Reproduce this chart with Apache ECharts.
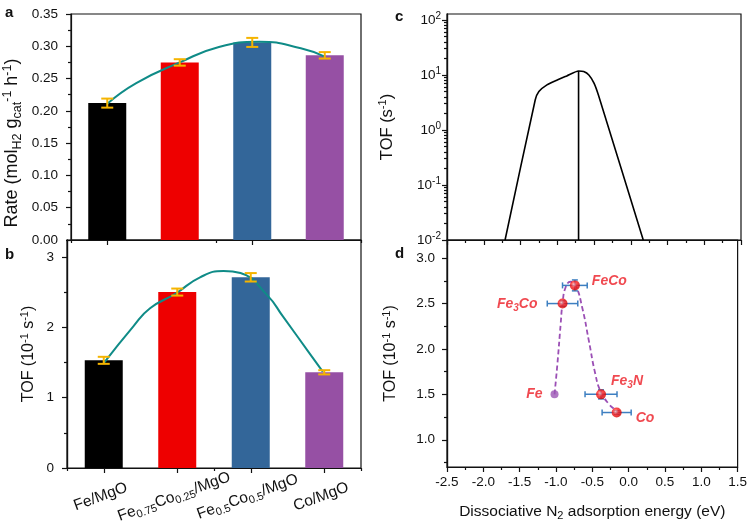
<!DOCTYPE html>
<html>
<head>
<meta charset="utf-8">
<script src="https://cdn.jsdelivr.net/npm/echarts@6/dist/echarts.min.js"></script>
<style>
  html, body { margin: 0; padding: 0; background: #fff; }
  #chart { width: 750px; height: 531px; }
</style>
</head>
<body>
<div id="chart"></div>
<script>
// panels a/b: catalysts
const catalysts = ['Fe/MgO', 'Fe0.75Co0.25/MgO', 'Fe0.5Co0.5/MgO', 'Co/MgO'];
const catLabels = ['Fe/MgO', 'Fe{s|0.75}Co{s|0.25}/MgO', 'Fe{s|0.5}Co{s|0.5}/MgO', 'Co/MgO'];
const barColors = ['#000000', '#ee0000', '#336699', '#9650a4'];

const rate    = [0.212, 0.275, 0.306, 0.286];
const rateErr = [0.007, 0.005, 0.007, 0.005];
// fitted trend, x in category units
const rateFitX = [0, 0.4, 1, 1.54, 2.1, 2.67, 3];
const rateFitY = [0.211, 0.243, 0.275, 0.299, 0.307, 0.297, 0.284];

const tof    = [1.53, 2.50, 2.71, 1.36];
const tofErr = [0.05, 0.05, 0.06, 0.03];
const tofFitX = [0, 0.4, 0.63, 0.98, 1.31, 1.63, 1.86, 2.22, 2.44, 2.8, 2.98];
const tofFitY = [1.49, 2.01, 2.27, 2.48, 2.71, 2.80, 2.77, 2.46, 2.15, 1.63, 1.37];

// panel c: volcano curve
const volcanoE   = [-1.71, -1.30, -1.25, -1.14, -1.00, -0.87, -0.71, -0.64, -0.57, -0.50, -0.44, 0.17];
const volcanoTof = [0.01, 3.5, 5.0, 6.6, 8.1, 9.6, 11.8, 11.5, 10.0, 7.1, 4.3, 0.01];
const peakE = -0.71;
const peakTof = 11.8;

// panel d: measured points
const materials = ['Fe', 'Fe{s|3}Co', 'FeCo', 'Fe{s|3}N', 'Co'];
const energyD   = [-1.02, -0.91, -0.74, -0.38, -0.165];
const tofD      = [1.5, 2.5, 2.7, 1.5, 1.3];
const energyErr = [0, 0.21, 0.17, 0.22, 0.20];
const tofDErr   = [0, 0.03, 0.06, 0.05, 0.02];
const trendE = [-1.02, -0.98, -0.935, -0.91, -0.867, -0.80, -0.73, -0.64, -0.55, -0.46, -0.39, -0.28, -0.18];
const trendT = [1.5, 1.84, 2.28, 2.5, 2.68, 2.74, 2.70, 2.46, 2.10, 1.73, 1.54, 1.40, 1.33];

const tofTicks = [0, 1, 2, 3];
const tofMinor = [0.5, 1.5, 2.5];
const logTicks = [0.01, 0.1, 1, 10, 100];
const dTicks = [1.0, 1.5, 2.0, 2.5, 3.0];
const dMinor = [0.75, 1.25, 1.75, 2.25, 2.75];

const font = '"Liberation Sans", Arial, sans-serif';
const ink = '#111';

const logMinor = [];
for (let d = 0.01; d < 100; d *= 10) {
  for (let k = 2; k <= 9; k++) logMinor.push(+(k * d).toPrecision(3));
}

function richFor(size) {
  return {
    s: { fontSize: size, lineHeight: size, verticalAlign: 'bottom', fontFamily: font, color: ink },
    p: { fontSize: size, lineHeight: size, verticalAlign: 'top', fontFamily: font, color: ink },
  };
}
const lineSt = { color: ink, width: 1.2 };
const axisLine = { show: true, onZero: false, lineStyle: lineSt };
const tick = (len, extra) => Object.assign({ show: true, length: len, lineStyle: lineSt }, extra);
const labelSt = { color: ink, fontFamily: font, fontSize: 13.5, margin: 13 };
const nameSt = (size, sub, lh, pad) => ({ color: ink, fontFamily: font, fontSize: size, lineHeight: lh, rich: richFor(sub), padding: pad || 0 });

function frame(left, top, height) {
  return { left, top, width: 294, height, show: true, borderColor: ink, borderWidth: 1.2, backgroundColor: 'transparent' };
}

// extra left axis that only carries minor ticks
function minorY(gridIndex, type, min, max, values) {
  return {
    gridIndex, type, min, max, position: 'left', offset: 0,
    axisLine: { show: true, onZero: false, lineStyle: lineSt },
    axisLabel: { show: false }, splitLine: { show: false },
    axisTick: tick(3, { customValues: values }),
  };
}

// vertical error bar with caps
function capBars(color, half) {
  return (params, api) => {
    const x = api.value(0), v = api.value(1), e = api.value(2);
    const top = api.coord([x, v + e]);
    const bot = api.coord([x, v - e]);
    const st = { stroke: color, lineWidth: 2 };
    return {
      type: 'group',
      children: [
        { type: 'line', shape: { x1: top[0], y1: top[1], x2: bot[0], y2: bot[1] }, style: st },
        { type: 'line', shape: { x1: top[0] - half, y1: top[1], x2: top[0] + half, y2: top[1] }, style: st },
        { type: 'line', shape: { x1: bot[0] - half, y1: bot[1], x2: bot[0] + half, y2: bot[1] }, style: st },
      ],
    };
  };
}

// x and y error bars for panel d
function xyErr(params, api) {
  const x = api.value(0), y = api.value(1), ex = api.value(2), ey = api.value(3);
  const st = { stroke: '#3d7fc1', lineWidth: 1.5 };
  const kids = [];
  const seg = (a, b) => kids.push({ type: 'line', shape: { x1: a[0], y1: a[1], x2: b[0], y2: b[1] }, style: st });
  if (ex) {
    const l = api.coord([x - ex, y]), r = api.coord([x + ex, y]);
    seg(l, r);
    seg([l[0], l[1] - 3], [l[0], l[1] + 3]);
    seg([r[0], r[1] - 3], [r[0], r[1] + 3]);
  }
  if (ey) {
    const t = api.coord([x, y + ey]), b = api.coord([x, y - ey]);
    seg(t, b);
    seg([t[0] - 3, t[1]], [t[0] + 3, t[1]]);
    seg([b[0] - 3, b[1]], [b[0] + 3, b[1]]);
  }
  return { type: 'group', children: kids };
}

const redBall = new echarts.graphic.RadialGradient(0.4, 0.4, 0.6, [
  { offset: 0, color: '#ffc4c4' },
  { offset: 0.45, color: '#f22' },
  { offset: 1, color: '#d40000' },
]);

const labelPos = [
  { position: 'left', distance: 8, offset: [0, 0] },
  { position: 'left', distance: 20, offset: [0, 1] },
  { position: 'right', distance: 12, offset: [0, -4] },
  { position: 'right', distance: 5, offset: [0, -13] },
  { position: 'right', distance: 14, offset: [0, 6] },
];

const pointData = materials.map((m, i) => ({
  value: [energyD[i], tofD[i]],
  itemStyle: i === 0 ? { color: '#9b55b4' } : { color: redBall },
  symbolSize: i === 0 ? 8 : 10,
  label: Object.assign({ show: true, formatter: m }, labelPos[i]),
}));

const dLabelRich = {
  s: { fontSize: 10, lineHeight: 10, verticalAlign: 'bottom', color: '#ec1c24', fontWeight: 'bold', fontStyle: 'italic', fontFamily: font },
};

const chart = echarts.init(document.getElementById('chart'), null, { renderer: 'canvas' });
chart.setOption({
  animation: false,
  backgroundColor: '#fff',
  textStyle: { fontFamily: font },
  grid: [frame(67, 14, 226), frame(67, 240, 228), frame(447, 14, 226), frame(447, 240, 227)],
  xAxis: [
    { gridIndex: 0, type: 'category', data: catalysts, position: 'bottom', axisLine,
      axisTick: tick(5, { alignWithLabel: true }), axisLabel: { show: false } },
    { gridIndex: 0, type: 'category', data: catalysts, position: 'bottom',
      axisLine: { show: true, onZero: false, lineStyle: lineSt }, axisTick: tick(3), axisLabel: { show: false } },
    { gridIndex: 0, type: 'value', min: -0.5, max: 3.5, show: false, axisLine: { onZero: false } },
    { gridIndex: 1, type: 'category', data: catalysts, position: 'bottom', axisLine,
      axisTick: tick(5, { alignWithLabel: true }),
      axisLabel: Object.assign({}, labelSt, {
        fontSize: 15.5, rotate: 20, align: 'center', verticalAlign: 'top', margin: 17, lineHeight: 20,
        padding: [0, 14, 0, 0], formatter: (v, i) => catLabels[i], rich: richFor(11),
      }) },
    { gridIndex: 1, type: 'category', data: catalysts, position: 'bottom',
      axisLine: { show: true, onZero: false, lineStyle: lineSt }, axisTick: tick(3), axisLabel: { show: false } },
    { gridIndex: 1, type: 'value', min: -0.5, max: 3.5, show: false, axisLine: { onZero: false } },
    { gridIndex: 2, type: 'value', min: -2.5, max: 1.5, interval: 0.5, position: 'bottom', axisLine,
      axisTick: tick(5), minorTick: { show: true, splitNumber: 2, length: 3, lineStyle: lineSt },
      axisLabel: { show: false }, splitLine: { show: false } },
    { gridIndex: 3, type: 'value', min: -2.5, max: 1.5, interval: 0.5, position: 'bottom', axisLine,
      axisTick: tick(5), minorTick: { show: true, splitNumber: 2, length: 3, lineStyle: lineSt },
      axisLabel: Object.assign({}, labelSt, { margin: 8, formatter: v => v.toFixed(1) }), splitLine: { show: false },
      name: 'Dissociative N{s|2} adsorption energy (eV)', nameLocation: 'middle', nameGap: 36,
      nameTextStyle: nameSt(15.5, 11, 18) },
  ],
  yAxis: [
    { gridIndex: 0, type: 'value', min: 0, max: 0.35, interval: 0.05, position: 'left', axisLine,
      axisTick: tick(5), minorTick: { show: true, splitNumber: 2, length: 3, lineStyle: lineSt },
      axisLabel: Object.assign({}, labelSt, { formatter: v => v.toFixed(2) }), splitLine: { show: false },
      name: 'Rate (mol{s|H2} g{s|cat}{p|-1} h{p|-1})', nameLocation: 'middle', nameRotate: 90, nameGap: 47,
      nameTextStyle: nameSt(18, 12.5, 23, [0, 32, 0, 0]) },
    { gridIndex: 1, type: 'value', min: 0, max: 3.24, position: 'left', axisLine,
      axisTick: tick(5, { customValues: tofTicks }),
      axisLabel: Object.assign({}, labelSt, { customValues: tofTicks }), splitLine: { show: false },
      name: 'TOF (10{p|-1} s{p|-1})', nameLocation: 'middle', nameRotate: 90, nameGap: 28,
      nameTextStyle: nameSt(16, 11, 20) },
    minorY(1, 'value', 0, 3.24, tofMinor),
    { gridIndex: 2, type: 'log', logBase: 10, min: 0.01, max: 128, position: 'left', axisLine,
      axisTick: tick(5, { customValues: logTicks }),
      axisLabel: Object.assign({}, labelSt, { margin: 6, customValues: logTicks, lineHeight: 18, rich: richFor(10),
        formatter: v => '10{p|' + Math.round(Math.log10(v)) + '}' }),
      splitLine: { show: false },
      name: 'TOF (s{p|-1})', nameLocation: 'middle', nameRotate: 90, nameGap: 50,
      nameTextStyle: nameSt(16.5, 11, 20) },
    minorY(2, 'log', 0.01, 128, logMinor),
    { gridIndex: 3, type: 'value', min: 0.7, max: 3.2, position: 'left', axisLine,
      axisTick: tick(5, { customValues: dTicks }),
      axisLabel: Object.assign({}, labelSt, { margin: 12, customValues: dTicks, formatter: v => v.toFixed(1) }),
      splitLine: { show: false },
      name: 'TOF (10{p|-1} s{p|-1})', nameLocation: 'middle', nameRotate: 90, nameGap: 46,
      nameTextStyle: nameSt(16, 11, 20) },
    minorY(3, 'value', 0.7, 3.2, dMinor),
  ],
  series: [
    // a
    { type: 'bar', xAxisIndex: 0, yAxisIndex: 0, barWidth: 38, z: 2,
      data: rate.map((v, i) => ({ value: v, itemStyle: { color: barColors[i] } })) },
    { type: 'line', xAxisIndex: 2, yAxisIndex: 0, smooth: true, symbol: 'none', z: 3,
      data: rateFitX.map((x, i) => [x, rateFitY[i]]), lineStyle: { color: '#0f8b87', width: 2 } },
    { type: 'custom', xAxisIndex: 0, yAxisIndex: 0, z: 4, renderItem: capBars('#f5b400', 6),
      data: rate.map((v, i) => [i, v, rateErr[i]]) },
    // b
    { type: 'bar', xAxisIndex: 3, yAxisIndex: 1, barWidth: 38, z: 2,
      data: tof.map((v, i) => ({ value: v, itemStyle: { color: barColors[i] } })) },
    { type: 'line', xAxisIndex: 5, yAxisIndex: 1, smooth: true, symbol: 'none', z: 3,
      data: tofFitX.map((x, i) => [x, tofFitY[i]]), lineStyle: { color: '#0f8b87', width: 2 } },
    { type: 'custom', xAxisIndex: 3, yAxisIndex: 1, z: 4, renderItem: capBars('#f5b400', 6),
      data: tof.map((v, i) => [i, v, tofErr[i]]) },
    // c
    { type: 'line', xAxisIndex: 6, yAxisIndex: 3, symbol: 'none', smooth: 0.2,
      data: volcanoE.map((e, i) => [e, volcanoTof[i]]), lineStyle: { color: '#000', width: 1.6 } },
    { type: 'line', xAxisIndex: 6, yAxisIndex: 3, symbol: 'none',
      data: [[peakE, 0.01], [peakE, peakTof]], lineStyle: { color: '#000', width: 1.6 } },
    // d
    { type: 'line', xAxisIndex: 7, yAxisIndex: 5, symbol: 'none', smooth: true, z: 2,
      data: trendE.map((e, i) => [e, trendT[i]]),
      lineStyle: { color: '#9b4fb5', width: 1.8, type: [5, 3] } },
    { type: 'custom', xAxisIndex: 7, yAxisIndex: 5, z: 3, renderItem: xyErr,
      data: energyD.map((e, i) => [e, tofD[i], energyErr[i], tofDErr[i]]) },
    { type: 'scatter', xAxisIndex: 7, yAxisIndex: 5, z: 4, data: pointData,
      label: { color: '#ec1c24', fontFamily: font, fontSize: 14, fontWeight: 'bold', fontStyle: 'italic',
        lineHeight: 18, rich: dLabelRich } },
  ],
  graphic: [
    { type: 'text', left: 5, top: 5, style: { text: 'a', font: 'bold 15px ' + font, fill: ink } },
    { type: 'text', left: 5, top: 247, style: { text: 'b', font: 'bold 15px ' + font, fill: ink } },
    { type: 'text', left: 395, top: 9, style: { text: 'c', font: 'bold 15px ' + font, fill: ink } },
    { type: 'text', left: 395, top: 246, style: { text: 'd', font: 'bold 15px ' + font, fill: ink } },
  ],
});
</script>
</body>
</html>
